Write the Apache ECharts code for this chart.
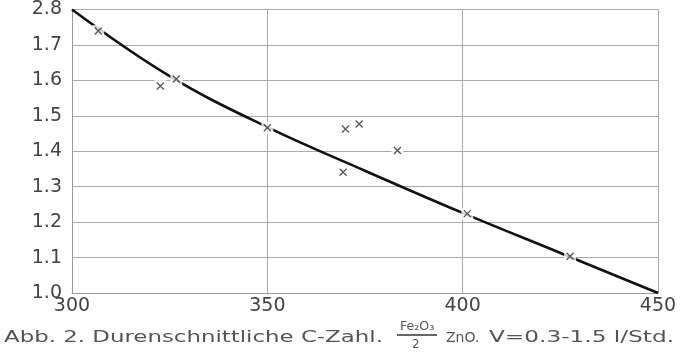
<!DOCTYPE html>
<html>
<head>
<meta charset="utf-8">
<script src="https://cdn.jsdelivr.net/npm/echarts@6/dist/echarts.min.js"></script>
<style>
  html, body { margin: 0; padding: 0; background: #fff; }
  #chart { width: 682px; height: 362px; }
</style>
</head>
<body>
<div id="chart"></div>
<script>
// Kurve (durchschnittliche C-Zahl)
var curveX = [300, 325, 350, 375, 400, 425, 450];
var curveY = [1.80, 1.612, 1.468, 1.345, 1.226, 1.113, 1.00];
// Messpunkte (x)
var pointX = [306.7, 322.6, 326.7, 350.0, 370.0, 373.5, 383.3, 369.4, 401.2, 427.5];
var pointY = [1.739, 1.584, 1.604, 1.466, 1.463, 1.477, 1.402, 1.341, 1.224, 1.104];
// Achsenbeschriftung wie im Bild
var yTickLabels = ['1.0', '1.1', '1.2', '1.3', '1.4', '1.5', '1.6', '1.7', '2.8'];
var xTickLabels = ['300', '350', '400', '450'];

var chart = echarts.init(document.getElementById('chart'));
var font = 'DejaVu Sans';

var curve = curveX.map(function (x, i) { return [x, curveY[i]]; });
var points = pointX.map(function (x, i) { return [x, pointY[i]]; });

var option = {
    animation: false,
    backgroundColor: '#fff',
    grid: { left: 72, right: 24, top: 8, bottom: 69 },
    xAxis: {
        type: 'value', min: 300, max: 450, interval: 50,
        axisLine: { show: true, lineStyle: { color: '#999', width: 1 } },
        axisTick: { show: false },
        splitLine: { show: true, lineStyle: { color: '#aaa', width: 1 } },
        axisLabel: {
            color: '#444', fontFamily: font, fontSize: 19, margin: 4,
            formatter: function (v) { return xTickLabels[Math.round((v - 300) / 50)]; }
        }
    },
    yAxis: {
        type: 'value', min: 1.0, max: 1.8, interval: 0.1,
        axisLine: { show: true, lineStyle: { color: '#999', width: 1 } },
        axisTick: { show: false },
        splitLine: { show: true, lineStyle: { color: '#aaa', width: 1 } },
        axisLabel: {
            color: '#444', fontFamily: font, fontSize: 19, margin: 10,
            formatter: function (v) {
                return yTickLabels[Math.round((v - 1.0) * 10)];
            }
        }
    },
    series: [
        {
            type: 'line', data: curve, smooth: 0.4, showSymbol: false,
            lineStyle: { color: '#111', width: 2.6 }, z: 2
        },
        {
            // weisser Hintergrund um die Kreuze
            type: 'scatter', data: points, symbol: 'rect', symbolSize: 12,
            itemStyle: { color: '#fff' }, z: 3, silent: true
        },
        {
            type: 'scatter', data: points,
            symbol: 'path://M0,0L10,10M10,0L0,10', symbolSize: 7,
            itemStyle: { color: 'rgba(0,0,0,0)', borderColor: '#333', borderWidth: 1.4 },
            z: 4
        }
    ],
    graphic: [
        { type: 'text', x: 4, y: 330, scaleX: 1.43,
          style: { text: 'Abb. 2. Durenschnittliche C-Zahl.', font: '16px "DejaVu Sans"', fill: '#555' } },
        { type: 'text', x: 400, y: 321, scaleX: 1.05,
          style: { text: 'Fe\u2082O\u2083', font: '12px "DejaVu Sans"', fill: '#555' } },
        { type: 'line', shape: { x1: 397, y1: 335, x2: 437, y2: 335 },
          style: { stroke: '#333', lineWidth: 1.6 } },
        { type: 'text', x: 412, y: 339,
          style: { text: '2', font: '12px "DejaVu Sans"', fill: '#555' } },
        { type: 'text', x: 446, y: 331,
          style: { text: 'ZnO.', font: '14px "DejaVu Sans"', fill: '#555' } },
        { type: 'text', x: 489, y: 330, scaleX: 1.45,
          style: { text: 'V=0.3-1.5 l/Std.', font: '16px "DejaVu Sans"', fill: '#555' } }
    ]
};
chart.setOption(option);
</script>
</body>
</html>
